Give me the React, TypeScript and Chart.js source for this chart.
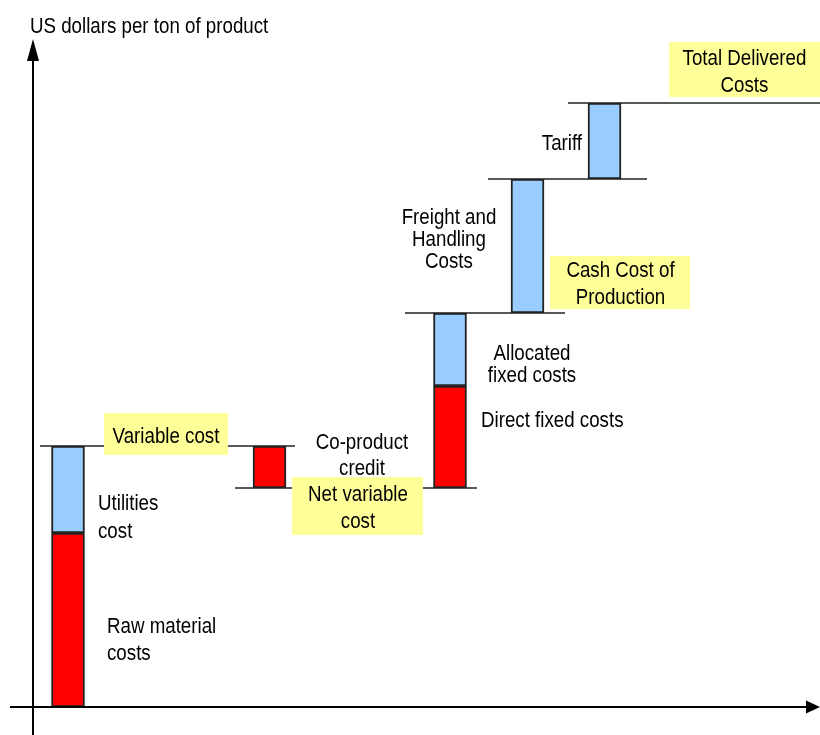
import React, { useEffect, useRef } from "react";
import { Chart, registerables } from "chart.js";

Chart.register(...registerables);

// ---- data (US dollars per ton, arbitrary units) ----
const stepNames = [
  "Raw material costs",
  "Utilities cost",
  "Co-product credit",
  "Direct fixed costs",
  "Allocated fixed costs",
  "Freight and Handling Costs",
  "Tariff",
];
const stepValues = [348, 174, -84, 204, 146, 268, 152];
const stepColumn = [0, 0, 1, 2, 2, 3, 4];
const stepSeries = [0, 1, 0, 0, 1, 1, 1]; // 0 = red series, 1 = blue series
const subtotalNames = ["Variable cost", "Net variable cost", "Cash Cost of Production", "Freight level", "Total Delivered Costs"];
const subtotalAfterStep = [1, 2, 4, 5, 6];

// ---- layout ----
const columnX = [35, 236.5, 417, 494.5, 571.5];
const connectorSpan: [number, number][] = [
  [7, 262],
  [202, 444],
  [372, 532],
  [455, 614],
  [535, 787],
];
const X_MAX = 787;
const Y_MAX = 1354;

const FONT = '22.5px "Liberation Sans", Arial, sans-serif';
const SQUEEZE = 0.832;
const RED = "#FF0000";
const BLUE = "#99CCFF";
const YELLOW = "#FFFF99";
const INK = "#000000";

type Label = {
  lines: string[];
  x: number;
  y: number; // first baseline, data units
  lh: number;
  align: CanvasTextAlign;
  box?: [number, number, number, number]; // x0, x1, yTop, yBottom in data units
};

const labels: Label[] = [
  { lines: ["Variable cost"], x: 133, y: 528, lh: 27, align: "center", box: [71, 195, 588, 504] },
  { lines: ["Utilities", "cost"], x: 65, y: 394, lh: 28, align: "left" },
  { lines: ["Raw material", "costs"], x: 74, y: 148, lh: 27, align: "left" },
  { lines: ["Co-product", "credit"], x: 329, y: 516, lh: 26, align: "center" },
  { lines: ["Net variable", "cost"], x: 325, y: 412, lh: 27, align: "center", box: [259, 390, 460, 344] },
  { lines: ["Direct fixed costs"], x: 448, y: 560, lh: 27, align: "left" },
  { lines: ["Allocated", "fixed costs"], x: 499, y: 694, lh: 22, align: "center" },
  { lines: ["Freight and", "Handling", "Costs"], x: 416, y: 966, lh: 22, align: "center" },
  { lines: ["Cash Cost of", "Production"], x: 587.5, y: 860, lh: 27, align: "center", box: [517, 657, 902, 796] },
  { lines: ["Tariff"], x: 549, y: 1114, lh: 27, align: "right" },
  { lines: ["Total Delivered", "Costs"], x: 711.5, y: 1284, lh: 27, align: "center", box: [636, 787, 1330, 1220] },
];

function drawText(ctx: CanvasRenderingContext2D, t: string, x: number, y: number) {
  ctx.save();
  ctx.translate(x, y);
  ctx.scale(SQUEEZE, 1);
  ctx.fillText(t, 0, 0);
  ctx.restore();
}

export default function App() {
  const ref = useRef<HTMLCanvasElement>(null);

  useEffect(() => {
    document.body.style.margin = "0";
    const canvas = ref.current;
    if (!canvas) return;

    // cumulative waterfall
    const levels: number[] = [];
    const redBars: any[] = [];
    const blueBars: any[] = [];
    let running = 0;
    stepValues.forEach((v, i) => {
      const start = running;
      const end = running + v;
      running = end;
      levels.push(end);
      const bar = { x: columnX[stepColumn[i]], y: [Math.min(start, end), Math.max(start, end)], name: stepNames[i] };
      (stepSeries[i] === 0 ? redBars : blueBars).push(bar);
    });

    const connectorSets = subtotalAfterStep.map((s, i) => ({
      type: "line" as const,
      label: subtotalNames[i],
      data: [
        { x: connectorSpan[i][0], y: levels[s] },
        { x: connectorSpan[i][1], y: levels[s] },
      ],
      borderColor: "#222",
      borderWidth: 1.6,
      pointRadius: 0,
      fill: false,
      order: 2,
    }));

    const overlay = {
      id: "overlay",
      afterDatasetsDraw(chart: any) {
        const ctx: CanvasRenderingContext2D = chart.ctx;
        const xs = chart.scales.x;
        const ys = chart.scales.y;
        const area = chart.chartArea;
        ctx.save();
        // boxes
        labels.forEach((l) => {
          if (!l.box) return;
          const x0 = xs.getPixelForValue(l.box[0]);
          const x1 = xs.getPixelForValue(l.box[1]);
          const y0 = ys.getPixelForValue(l.box[2]);
          const y1 = ys.getPixelForValue(l.box[3]);
          ctx.fillStyle = YELLOW;
          ctx.fillRect(x0, y0, x1 - x0, y1 - y0);
        });
        // texts
        ctx.font = FONT;
        ctx.fillStyle = INK;
        ctx.textBaseline = "alphabetic";
        labels.forEach((l) => {
          ctx.textAlign = l.align;
          const px = xs.getPixelForValue(l.x);
          const py = ys.getPixelForValue(l.y);
          l.lines.forEach((t, k) => drawText(ctx, t, px, py + k * l.lh));
        });
        // axes
        const ax = area.left;
        const ay = area.bottom;
        ctx.strokeStyle = "#000";
        ctx.fillStyle = "#000";
        ctx.lineWidth = 2;
        ctx.beginPath();
        ctx.moveTo(ax, area.top + 30);
        ctx.lineTo(ax, chart.height);
        ctx.moveTo(10, ay);
        ctx.lineTo(area.right - 13, ay);
        ctx.stroke();
        ctx.beginPath();
        ctx.moveTo(ax, area.top + 9);
        ctx.lineTo(ax - 6, area.top + 31);
        ctx.lineTo(ax + 6, area.top + 31);
        ctx.closePath();
        ctx.fill();
        ctx.beginPath();
        ctx.moveTo(area.right, ay);
        ctx.lineTo(area.right - 14, ay - 6.5);
        ctx.lineTo(area.right - 14, ay + 6.5);
        ctx.closePath();
        ctx.fill();
        // axis title
        ctx.textAlign = "left";
        ctx.fillStyle = INK;
        drawText(ctx, "US dollars per ton of product", ax - 3, area.top + 3);
        ctx.restore();
      },
    };

    const chart = new Chart(canvas, {
      type: "bar",
      data: {
        datasets: [
          {
            label: "Direct costs",
            data: redBars,
            backgroundColor: RED,
            borderColor: "#222",
            borderWidth: 2,
            borderSkipped: false,
            barThickness: 33,
            grouped: false,
            order: 1,
          } as any,
          {
            label: "Other costs",
            data: blueBars,
            backgroundColor: BLUE,
            borderColor: "#222",
            borderWidth: 2,
            borderSkipped: false,
            barThickness: 33,
            grouped: false,
            order: 1,
          } as any,
          ...connectorSets,
        ],
      },
      options: {
        animation: false,
        responsive: false,
        layout: { padding: { left: 33, right: 0, top: 30, bottom: 28 } },
        plugins: { legend: { display: false }, tooltip: { enabled: false }, title: { display: false } },
        scales: {
          x: { type: "linear", min: 0, max: X_MAX, display: false, offset: false },
          y: { type: "linear", min: 0, max: Y_MAX, display: false },
        },
      } as any,
      plugins: [overlay],
    });
    return () => chart.destroy();
  }, []);

  return (
    <div style={{ position: "absolute", left: 0, top: 0, width: 820, height: 735, background: "#fff" }}>
      <canvas ref={ref} width={820} height={735} />
    </div>
  );
}
